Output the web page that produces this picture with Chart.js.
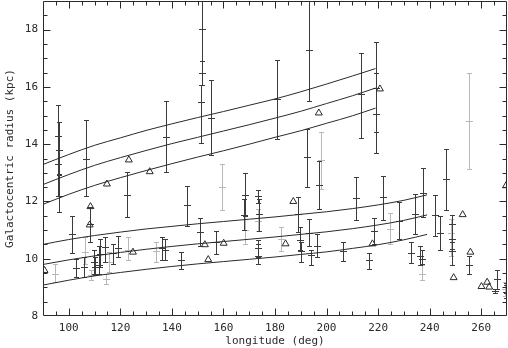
<!DOCTYPE html>
<html>
<head>
<meta charset="utf-8">
<script src="https://cdn.jsdelivr.net/npm/chart.js@4.4.1/dist/chart.umd.min.js"></script>
<style>
  html, body { margin: 0; padding: 0; background: #fff; }
  #wrap { width: 508px; height: 348px; position: relative; }
</style>
</head>
<body>
<div id="wrap"><canvas id="chart"></canvas></div>
<script>
// axis ticks
const xTickVals = [100, 120, 140, 160, 180, 200, 220, 240, 260];
const yTickVals = [8, 10, 12, 14, 16, 18];

// model curves (upper group ends near l=219, lower group near l=239)
const upperLon = [90, 100, 110, 120, 130, 140, 150, 160, 170, 180, 190, 200, 210, 219];
const upperTop = [13.29, 13.64, 13.96, 14.22, 14.48, 14.71, 14.93, 15.14, 15.36, 15.58, 15.83, 16.10, 16.38, 16.64];
const upperMid = [12.59, 12.94, 13.26, 13.53, 13.78, 14.02, 14.24, 14.46, 14.68, 14.91, 15.15, 15.42, 15.69, 15.96];
const upperLow = [11.90, 12.25, 12.56, 12.83, 13.08, 13.32, 13.55, 13.77, 14.00, 14.24, 14.47, 14.73, 14.99, 15.26];

const lowerLon = [90, 100, 110, 120, 130, 140, 150, 160, 170, 180, 190, 200, 210, 220, 230, 239];
const lowerTop = [10.50, 10.67, 10.81, 10.93, 11.04, 11.13, 11.22, 11.30, 11.38, 11.46, 11.55, 11.64, 11.75, 11.88, 12.04, 12.23];
const lowerMid = [9.80, 9.96, 10.10, 10.22, 10.33, 10.43, 10.52, 10.60, 10.68, 10.76, 10.85, 10.94, 11.05, 11.18, 11.34, 11.53];
const lowerLow = [9.08, 9.25, 9.40, 9.52, 9.63, 9.73, 9.82, 9.90, 9.98, 10.06, 10.15, 10.24, 10.36, 10.49, 10.66, 10.85];

// measurements with error bars
const errLon = [96.0, 96.2, 95.8, 96.1, 94.5, 101.3, 102.8, 106.7, 105.8, 106.3, 108.2, 108.6, 109.7, 110.3, 111.6, 112.0,
  113.9, 114.6, 115.7, 117.2, 119.0, 122.6, 122.9, 137.8, 134.0, 136.2, 137.2, 143.6, 145.9, 150.8, 157.3, 159.5,
  151.5, 151.6, 151.4, 155.2, 168.3, 168.1, 168.4, 173.5, 173.6, 173.4, 173.3, 173.4, 180.9, 182.4, 189.0, 189.7,
  189.9, 193.1, 194.1, 196.1, 206.5, 192.4, 193.1, 197.0, 198.0, 213.5, 219.0, 219.2, 237.4, 246.5, 255.4, 211.3,
  216.4, 218.4, 222.0, 224.6, 228.1, 232.9, 234.2, 236.1, 237.2, 237.0, 241.9, 243.9, 248.5, 248.6, 248.4, 248.5,
  255.2, 266.1, 265.5, 269.5, 269.7, 269.2];
const errR = [14.30, 13.81, 13.31, 12.20, 9.48, 10.85, 9.69, 13.50, 9.71, 10.23, 11.20, 9.42, 9.90, 9.71, 9.77, 10.17,
  10.40, 9.30, 9.88, 10.20, 10.38, 12.23, 10.31, 14.26, 10.26, 10.37, 10.31, 9.94, 11.86, 10.95, 10.58, 12.52,
  18.01, 16.50, 15.49, 14.93, 12.23, 11.51, 11.01, 12.20, 11.57, 11.33, 10.38, 10.09, 15.57, 10.70, 11.57, 10.64,
  10.26, 10.89, 10.12, 10.46, 10.26, 13.55, 17.28, 12.59, 13.45, 15.75, 15.96, 15.07, 12.29, 12.79, 14.80, 12.11,
  9.97, 10.96, 12.15, 11.05, 11.33, 10.20, 11.57, 10.08, 9.48, 10.00, 11.51, 10.91, 11.22, 10.70, 10.90, 10.27,
  9.79, 9.30, 8.87, 9.00, 8.85, 8.95];
const errLo = [13.31, 12.94, 12.20, 11.62, 9.18, 10.20, 9.36, 12.18, 9.36, 9.80, 10.58, 9.27, 9.46, 9.42, 9.48, 9.70,
  9.88, 9.13, 9.53, 9.83, 10.06, 11.47, 9.94, 13.02, 9.88, 9.97, 9.94, 9.65, 11.16, 10.43, 10.15, 11.70,
  16.91, 16.07, 14.04, 13.63, 11.50, 11.00, 10.52, 11.95, 10.96, 10.96, 10.06, 9.83, 14.18, 10.26, 10.93, 10.30,
  9.88, 10.43, 9.77, 10.06, 9.92, 12.52, 15.52, 11.74, 12.44, 14.22, 13.69, 14.41, 11.45, 11.71, 13.14, 11.36,
  9.65, 10.52, 11.36, 10.52, 10.70, 9.85, 10.87, 9.77, 9.24, 9.80, 10.81, 10.32, 10.70, 10.35, 10.10, 9.77,
  9.45, 8.95, 8.80, 8.80, 8.62, 8.70];
const errHi = [15.37, 14.76, 14.30, 12.96, 9.80, 11.50, 10.00, 14.84, 10.06, 10.75, 11.80, 9.62, 10.29, 10.06, 10.46, 10.70,
  10.75, 9.48, 10.23, 10.52, 10.79, 13.04, 10.75, 15.52, 10.60, 10.75, 10.70, 10.23, 12.55, 11.43, 10.96, 13.31,
  19.50, 16.91, 16.07, 16.24, 12.98, 12.10, 11.50, 12.40, 12.10, 11.75, 10.64, 10.52, 16.94, 11.12, 12.15, 11.10,
  10.60, 11.39, 10.29, 10.85, 10.58, 14.53, 19.50, 13.43, 14.41, 17.20, 17.58, 16.47, 13.17, 13.83, 16.48, 12.84,
  10.20, 11.43, 12.90, 11.59, 11.97, 10.58, 12.26, 10.46, 9.77, 10.30, 12.24, 11.50, 11.53, 11.20, 11.40, 10.60,
  10.11, 9.59, 8.95, 9.15, 9.10, 9.20];
const errGrey = [0, 0, 0, 0, 1, 0, 0, 0, 0, 1, 0, 1, 0, 0, 0, 0,
  0, 1, 1, 0, 0, 0, 1, 0, 1, 0, 0, 0, 0, 0, 0, 1,
  0, 0, 0, 0, 0, 0, 1, 0, 0, 1, 0, 0, 0, 1, 0, 0,
  0, 0, 0, 0, 0, 0, 0, 0, 1, 0, 0, 0, 0, 0, 1, 0,
  0, 0, 0, 1, 0, 0, 0, 0, 1, 0, 0, 0, 0, 0, 1, 0,
  0, 0, 0, 0, 0, 1];

// open triangles
const triLon = [90.6, 108.4, 108.1, 114.8, 123.3, 131.4, 124.9, 152.8, 154.1, 160.1, 184.1, 187.1, 197.0, 217.8, 220.7,
  249.3, 252.8, 255.8, 260.1, 262.3, 263.1, 269.6];
const triR = [9.59, 11.82, 11.18, 12.61, 13.45, 13.04, 10.23, 10.49, 9.97, 10.54, 10.52, 12.00, 15.09, 10.52, 15.93,
  9.34, 11.54, 10.23, 9.03, 9.18, 9.01, 12.55];

const ink = '#2a2a2a';
const monoFont = { family: '"DejaVu Sans Mono", monospace', size: 11 };

const pairs = (xs, ys) => xs.map((v, i) => ({ x: v, y: ys[i] }));

function curve(xs, ys) {
    return {
        type: 'scatter',
        showLine: true,
        data: pairs(xs, ys),
        borderColor: ink,
        borderWidth: 1,
        pointRadius: 0,
        pointHoverRadius: 0,
        cubicInterpolationMode: 'monotone'
    };
}

// error bars drawn from the arrays through the chart scales
const errorBarPlugin = {
    id: 'errorBars',
    beforeDatasetsDraw(chart) {
        const { ctx, chartArea: a, scales: { x, y } } = chart;
        ctx.save();
        ctx.beginPath();
        ctx.rect(a.left, a.top, a.right - a.left, a.bottom - a.top);
        ctx.clip();
        ctx.lineWidth = 1;
        // grey ones first, dark ones on top
        [1, 0].forEach(pass => {
            errLon.forEach((lon, i) => {
                if (errGrey[i] !== pass) return;
                const px = Math.round(x.getPixelForValue(lon)) + 0.5;
                const pc = Math.round(y.getPixelForValue(errR[i])) + 0.5;
                const pl = Math.round(y.getPixelForValue(errLo[i])) + 0.5;
                const ph = Math.round(y.getPixelForValue(errHi[i])) + 0.5;
                ctx.strokeStyle = pass ? '#b8b8b8' : '#3c3c3c';
                ctx.beginPath();
                ctx.moveTo(px, pl); ctx.lineTo(px, ph);
                ctx.moveTo(px - 2.5, pl); ctx.lineTo(px + 2.5, pl);
                ctx.moveTo(px - 2.5, ph); ctx.lineTo(px + 2.5, ph);
                ctx.moveTo(px - 3.5, pc); ctx.lineTo(px + 3.5, pc);
                ctx.stroke();
            });
        });
        ctx.restore();
    },
    afterDraw(chart) {
        const { ctx, chartArea: a, scales: { x, y } } = chart;
        ctx.save();
        ctx.strokeStyle = ink;
        ctx.lineWidth = 1;
        const L = Math.round(a.left) + 0.5, R = Math.round(a.right) - 0.5;
        const T = Math.round(a.top) + 0.5, B = Math.round(a.bottom) - 0.5;
        ctx.beginPath();
        ctx.rect(L, T, R - L, B - T);
        // inward ticks on all four sides
        for (let v = 95; v < 270; v += 5) {
            const px = Math.round(x.getPixelForValue(v)) + 0.5;
            const len = (v - 100) % 20 === 0 ? 7 : 4;
            ctx.moveTo(px, B); ctx.lineTo(px, B - len);
            ctx.moveTo(px, T); ctx.lineTo(px, T + len);
        }
        for (let v = 8.5; v < 19; v += 0.5) {
            const py = Math.round(y.getPixelForValue(v)) + 0.5;
            const len = v % 2 === 0 ? 7 : 4;
            ctx.moveTo(L, py); ctx.lineTo(L + len, py);
            ctx.moveTo(R, py); ctx.lineTo(R - len, py);
        }
        ctx.stroke();
        ctx.restore();
    }
};

const ctx = document.getElementById('chart').getContext('2d');
new Chart(ctx, {
    type: 'scatter',
    data: {
        datasets: [
            curve(upperLon, upperTop),
            curve(upperLon, upperMid),
            curve(upperLon, upperLow),
            curve(lowerLon, lowerTop),
            curve(lowerLon, lowerMid),
            curve(lowerLon, lowerLow),
            {
                data: pairs(triLon, triR),
                pointStyle: 'triangle',
                pointRadius: 4,
                borderWidth: 1,
                borderColor: ink,
                backgroundColor: 'rgba(0,0,0,0)'
            }
        ]
    },
    options: {
        responsive: true,
        maintainAspectRatio: false,
        animation: false,
        events: [],
        layout: { autoPadding: false, padding: { top: 1, right: 1, left: 0, bottom: 0 } },
        plugins: { legend: { display: false }, tooltip: { enabled: false } },
        scales: {
            x: {
                type: 'linear',
                min: 90,
                max: 270,
                afterBuildTicks: scale => { scale.ticks = xTickVals.map(v => ({ value: v })); },
                afterFit: scale => { scale.height = 32; scale.paddingLeft = 0; scale.paddingRight = 0; },
                grid: { display: false, drawTicks: false },
                border: { display: false },
                ticks: { color: ink, font: monoFont, padding: 6, maxRotation: 0 },
                title: { display: true, text: 'longitude (deg)', color: ink, font: monoFont, padding: { top: 0, bottom: 0 } }
            },
            y: {
                type: 'linear',
                min: 8,
                max: 19,
                afterBuildTicks: scale => { scale.ticks = yTickVals.map(v => ({ value: v })); },
                afterFit: scale => { scale.width = 43; scale.paddingTop = 0; scale.paddingBottom = 0; },
                grid: { display: false, drawTicks: false },
                border: { display: false },
                ticks: { color: ink, font: monoFont, padding: 5 },
                title: { display: true, text: 'Galactocentric radius (kpc)', color: ink, font: monoFont, padding: { top: 4, bottom: 0 } }
            }
        }
    },
    plugins: [errorBarPlugin]
});
</script>
</body>
</html>
